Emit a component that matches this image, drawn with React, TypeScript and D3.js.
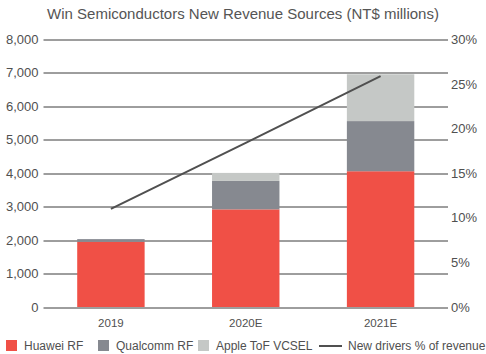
import React from 'react';
import * as d3 from 'd3';

// chart data
const years = ['2019', '2020E', '2021E'];
const huaweiRF = [1950, 2920, 4060];
const qualcommRF = [80, 850, 1500];
const appleVCSEL = [0, 240, 1400];
const driversPct = [11.0, 18.4, 25.9];
const leftTicks = [0, 1000, 2000, 3000, 4000, 5000, 6000, 7000, 8000];
const rightTicks = [0, 5, 10, 15, 20, 25, 30];

const seriesNames = ['Huawei RF', 'Qualcomm RF', 'Apple ToF VCSEL'];
const colors = ['#F05046', '#868990', '#C5C8C6'];

export default function App() {
  const w = 486;
  const h = 354;
  const margin = { top: 39.5, right: 38, bottom: 47, left: 43.5 };
  const innerW = w - margin.left - margin.right;
  const innerH = h - margin.top - margin.bottom;

  const x = d3.scaleBand().domain(years).range([0, innerW]).paddingInner(0.5).paddingOuter(0.25);
  const y = d3.scaleLinear().domain([0, 8000]).range([innerH, 0]);
  const y2 = d3.scaleLinear().domain([0, 30]).range([innerH, 0]);

  const rows = years.map((yr, i) => ({ year: yr, a: huaweiRF[i], b: qualcommRF[i], c: appleVCSEL[i] }));
  const stacked = d3.stack<any>().keys(['a', 'b', 'c'])(rows);

  const line = d3.line<number>()
    .x((d, i) => (x(years[i]) as number) + x.bandwidth() / 2)
    .y(d => y2(d));

  const fmt = d3.format(',');
  const font = 'Liberation Sans, Arial, sans-serif';
  const textColor = '#505050';

  return (
    <svg width={w} height={h} style={{ position: 'absolute', left: 0, top: 0, background: '#fff' }} fontFamily={font}>
      <text x={w / 2} y={19} textAnchor="middle" fontSize={15} fill="#555">
        Win Semiconductors New Revenue Sources (NT$ millions)
      </text>
      <g transform={`translate(${margin.left},${margin.top})`}>
        {leftTicks.map(t => (
          <g key={t}>
            <line x1={0} x2={innerW} y1={Math.round(y(t)) + 0.5} y2={Math.round(y(t)) + 0.5} stroke="#3c3c3c" strokeWidth={1} />
            <text x={-5} y={y(t)} dy="0.35em" textAnchor="end" fontSize={13} fill={textColor}>{fmt(t)}</text>
          </g>
        ))}
        {rightTicks.map(t => (
          <text key={t} x={innerW + 3} y={y2(t)} dy="0.35em" fontSize={13} fill={textColor}>{t}%</text>
        ))}
        {stacked.map((s, si) => (
          <g key={si} fill={colors[si]}>
            {s.map((d, i) => (
              <rect key={i} x={x(years[i])} width={x.bandwidth()} y={y(d[1])} height={y(d[0]) - y(d[1])} />
            ))}
          </g>
        ))}
        <path d={line(driversPct) as string} fill="none" stroke="#505050" strokeWidth={2} />
        {years.map(yr => (
          <text key={yr} x={(x(yr) as number) + x.bandwidth() / 2} y={innerH + 20} textAnchor="middle" fontSize={11.5} fill={textColor}>{yr}</text>
        ))}
      </g>
      <g fontSize={12} fill={textColor}>
        {seriesNames.map((n, i) => {
          const lx = [6, 98, 198][i];
          return (
            <g key={n}>
              <rect x={lx} y={340} width={11} height={11} fill={colors[i]} />
              <text x={lx + 18} y={350}>{n}</text>
            </g>
          );
        })}
        <line x1={319} x2={342} y1={346} y2={346} stroke="#505050" strokeWidth={2} />
        <text x={348} y={350}>New drivers % of revenue</text>
      </g>
    </svg>
  );
}
